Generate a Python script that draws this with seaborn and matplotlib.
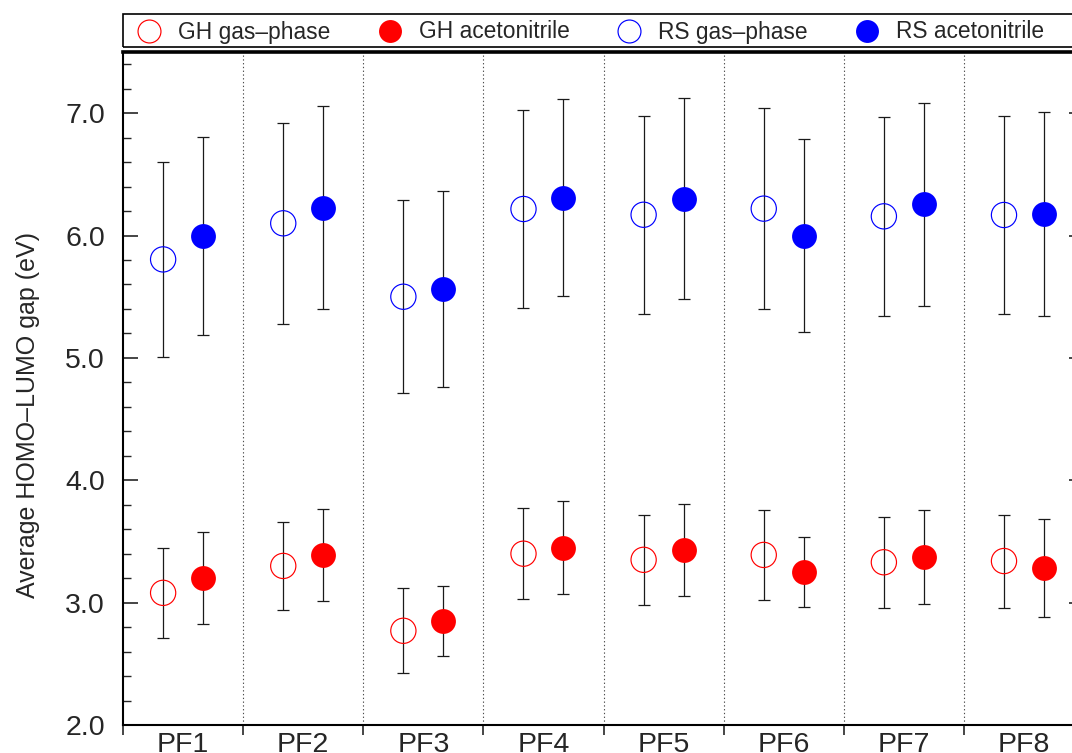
import numpy as np
import pandas as pd
import matplotlib
matplotlib.use("Agg")
import matplotlib.pyplot as plt
from matplotlib.lines import Line2D
from matplotlib.patches import Rectangle
from matplotlib.ticker import MultipleLocator, FixedLocator, NullFormatter, FormatStrFormatter
import seaborn as sns

# Average HOMO-LUMO gaps (eV) per PF structure, with standard deviations
frames = ["PF1", "PF2", "PF3", "PF4", "PF5", "PF6", "PF7", "PF8"]

gh_gas = [3.08, 3.30, 2.77, 3.40, 3.35, 3.39, 3.33, 3.34]
gh_gas_err = [0.365, 0.363, 0.346, 0.37, 0.37, 0.37, 0.37, 0.38]
gh_acn = [3.20, 3.39, 2.85, 3.45, 3.43, 3.25, 3.37, 3.285]
gh_acn_err = [0.375, 0.378, 0.285, 0.38, 0.375, 0.283, 0.383, 0.40]

rs_gas = [5.805, 6.10, 5.50, 6.217, 6.17, 6.22, 6.157, 6.168]
rs_gas_err = [0.80, 0.82, 0.79, 0.81, 0.81, 0.82, 0.815, 0.81]
rs_acn = [5.996, 6.228, 5.565, 6.31, 6.30, 6.00, 6.255, 6.176]
rs_acn_err = [0.81, 0.83, 0.80, 0.805, 0.82, 0.79, 0.83, 0.83]

series_labels = ["GH gas\u2013phase", "GH acetonitrile", "RS gas\u2013phase", "RS acetonitrile"]

sns.set_style("ticks")
plt.rcParams["font.family"] = ["Liberation Sans", "DejaVu Sans"]

# (label, values, errors, colour, filled, horizontal offset within a category)
series = [
    (series_labels[0], gh_gas, gh_gas_err, "#ff0000", False, -0.166),
    (series_labels[1], gh_acn, gh_acn_err, "#ff0000", True, 0.166),
    (series_labels[2], rs_gas, rs_gas_err, "#0000ff", False, -0.166),
    (series_labels[3], rs_acn, rs_acn_err, "#0000ff", True, 0.166),
]

rows = []
for label, vals, errs, color, filled, off in series:
    for i, (f, v, e) in enumerate(zip(frames, vals, errs)):
        rows.append(dict(series=label, frame=f, pos=i + off, gap=v, err=e))
df = pd.DataFrame(rows)

W, H = 1072, 753
fig = plt.figure(figsize=(W / 100, H / 100), dpi=100)
ax = fig.add_axes([123 / W, 1 - 725 / H, (1084 - 123) / W, (725 - 52) / H])

# category separators
for b in np.arange(0.5, len(frames) - 0.5, 1.0):
    ax.axvline(b, color="0.3", lw=0.8, ls=(0, (1.2, 2.2)), zorder=1)

handles = []
for label, vals, errs, color, filled, off in series:
    sub = df[df["series"] == label]
    ax.errorbar(sub["pos"], sub["gap"], yerr=sub["err"], fmt="none",
                ecolor="#1a1a1a", elinewidth=0.9, capsize=4.3, capthick=0.9, zorder=2)
    if filled:
        sns.scatterplot(data=sub, x="pos", y="gap", ax=ax, s=320, color=color,
                        edgecolor=color, linewidth=0, zorder=3, legend=False)
        handles.append(Line2D([], [], ls="none", marker="o", markersize=16.5,
                              markerfacecolor=color, markeredgecolor=color,
                              markeredgewidth=0))
    else:
        sns.scatterplot(data=sub, x="pos", y="gap", ax=ax, s=330, color=color,
                        facecolors="none", edgecolor=color, linewidth=0.85,
                        zorder=3, legend=False)
        handles.append(Line2D([], [], ls="none", marker="o", markersize=16.5,
                              markerfacecolor="none", markeredgecolor=color,
                              markeredgewidth=0.85))

ax.set_xlim(-0.5, len(frames) - 0.5)
ax.set_ylim(2.0, 7.5)

# y axis: labelled major ticks every 1.0, minor every 0.2
ax.yaxis.set_major_locator(MultipleLocator(1.0))
ax.yaxis.set_minor_locator(MultipleLocator(0.2))
ax.yaxis.set_major_formatter(FormatStrFormatter("%.1f"))
ax.tick_params(axis="y", which="major", direction="in", length=11, width=1.2,
               labelsize=20.5, pad=13, left=True, right=True, labelright=False)
ax.tick_params(axis="y", which="minor", direction="in", length=5.5, width=1.0,
               left=True, right=False)

# x axis: ticks at category boundaries, labels at category centres
ax.xaxis.set_major_locator(FixedLocator(np.arange(-0.5, len(frames) + 0.5, 1.0)))
ax.xaxis.set_major_formatter(NullFormatter())
ax.set_xticks(range(len(frames)), labels=frames, minor=True)
ax.tick_params(axis="x", which="major", direction="out", length=7.5, width=1.2,
               bottom=True, top=False)
ax.tick_params(axis="x", which="minor", length=0, labelsize=20.5, pad=5,
               bottom=True, top=False)

ax.set_xlabel("")
ax.set_ylabel("Average HOMO\u2013LUMO gap (eV)", fontsize=18)
ax.yaxis.set_label_coords((40 - 123) / (1084 - 123), (725 - 415) / (725 - 52))

for side in ["left", "bottom", "right"]:
    ax.spines[side].set_linewidth(1.5)
    ax.spines[side].set_color("black")
ax.spines["top"].set_linewidth(2.6)
ax.spines["top"].set_color("black")

# legend row above the plot, inside a rectangular frame
leg = fig.legend(handles, series_labels, ncol=4, loc="center left",
                 bbox_to_anchor=(138 / W, 1 - 32 / H), frameon=False,
                 fontsize=16.4, borderpad=0, borderaxespad=0,
                 handlelength=1.0, handletextpad=0.77, columnspacing=2.1)
fig.patches.append(Rectangle((123 / W, 1 - 47 / H), (1090 - 123) / W, 33 / H,
                             transform=fig.transFigure, fill=False,
                             edgecolor="black", linewidth=1.2, zorder=5))

fig.savefig("out.png", dpi=100)
